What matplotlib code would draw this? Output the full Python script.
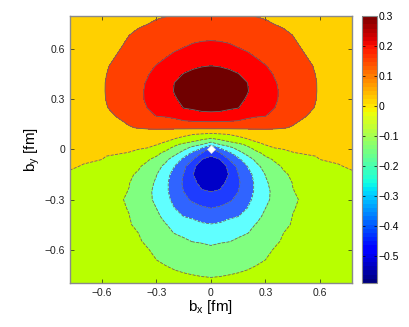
import numpy as np
import matplotlib
matplotlib.use('Agg')
import matplotlib.pyplot as plt
from matplotlib.colors import Normalize
import matplotlib.cm as cm

plt.rcParams['font.family'] = ['Liberation Sans', 'DejaVu Sans']

# grid (right half, bx >= 0; the map is mirror symmetric)
bx_half = [0.0, 0.05, 0.1, 0.15, 0.2, 0.25, 0.3, 0.35, 0.4, 0.45, 0.5, 0.6, 0.7, 0.8]
by_rows = [0.8, 0.75, 0.7, 0.6, 0.5, 0.45, 0.4, 0.35, 0.3, 0.25, 0.2, 0.16, 0.13, 0.11,
           0.09, 0.07, 0.05, 0.03, 0.01, -0.02, -0.04, -0.06, -0.1, -0.15, -0.2,
           -0.25, -0.3, -0.35, -0.4, -0.45, -0.5, -0.55, -0.6, -0.7, -0.8]

field_half = [
    [0.083, 0.081, 0.076, 0.067, 0.054, 0.048, 0.044, 0.040, 0.035, 0.031, 0.026, 0.018, 0.009, 0.000],
    [0.104, 0.102, 0.097, 0.089, 0.077, 0.067, 0.058, 0.050, 0.045, 0.039, 0.034, 0.023, 0.011, 0.000],
    [0.125, 0.123, 0.118, 0.110, 0.099, 0.086, 0.075, 0.064, 0.055, 0.047, 0.041, 0.027, 0.014, 0.000],
    [0.178, 0.175, 0.168, 0.155, 0.143, 0.130, 0.113, 0.096, 0.080, 0.065, 0.050, 0.033, 0.017, 0.000],
    [0.251, 0.247, 0.238, 0.222, 0.197, 0.169, 0.153, 0.133, 0.111, 0.089, 0.067, 0.039, 0.019, 0.000],
    [0.280, 0.277, 0.268, 0.254, 0.225, 0.201, 0.173, 0.145, 0.122, 0.099, 0.076, 0.041, 0.020, 0.000],
    [0.296, 0.293, 0.285, 0.271, 0.251, 0.220, 0.188, 0.156, 0.131, 0.106, 0.082, 0.043, 0.021, 0.000],
    [0.300, 0.297, 0.288, 0.274, 0.254, 0.224, 0.193, 0.161, 0.134, 0.109, 0.084, 0.043, 0.022, 0.000],
    [0.290, 0.287, 0.278, 0.264, 0.244, 0.216, 0.188, 0.160, 0.133, 0.107, 0.081, 0.042, 0.021, 0.000],
    [0.267, 0.264, 0.255, 0.252, 0.218, 0.200, 0.175, 0.151, 0.124, 0.099, 0.073, 0.039, 0.020, 0.000],
    [0.232, 0.232, 0.232, 0.205, 0.170, 0.157, 0.151, 0.128, 0.104, 0.079, 0.055, 0.035, 0.017, 0.000],
    [0.133, 0.132, 0.128, 0.124, 0.115, 0.105, 0.095, 0.080, 0.070, 0.054, 0.045, 0.030, 0.014, -0.002],
    [0.071, 0.070, 0.070, 0.067, 0.064, 0.061, 0.059, 0.056, 0.052, 0.047, 0.040, 0.025, 0.010, -0.005],
    [0.005, 0.006, 0.007, 0.018, 0.025, 0.033, 0.038, 0.039, 0.037, 0.029, 0.025, 0.017, 0.004, -0.008],
    [-0.075, -0.062, -0.049, -0.026, -0.007, 0.008, 0.017, 0.022, 0.022, 0.017, 0.014, 0.009, -0.001, -0.012],
    [-0.138, -0.114, -0.090, -0.067, -0.040, -0.018, -0.003, 0.004, 0.007, 0.004, 0.004, 0.001, -0.006, -0.015],
    [-0.217, -0.178, -0.140, -0.107, -0.073, -0.043, -0.024, -0.013, -0.007, -0.008, -0.007, -0.007, -0.012, -0.019],
    [-0.325, -0.248, -0.211, -0.174, -0.133, -0.084, -0.045, -0.031, -0.022, -0.020, -0.018, -0.015, -0.017, -0.022],
    [-0.454, -0.343, -0.277, -0.219, -0.167, -0.124, -0.085, -0.049, -0.037, -0.032, -0.029, -0.023, -0.022, -0.026],
    [-0.514, -0.450, -0.367, -0.284, -0.219, -0.166, -0.132, -0.105, -0.079, -0.053, -0.045, -0.034, -0.030, -0.031],
    [-0.551, -0.489, -0.412, -0.335, -0.258, -0.201, -0.149, -0.127, -0.106, -0.085, -0.063, -0.046, -0.040, -0.032],
    [-0.565, -0.553, -0.450, -0.373, -0.296, -0.229, -0.176, -0.141, -0.123, -0.105, -0.086, -0.050, -0.042, -0.035],
    [-0.583, -0.572, -0.540, -0.421, -0.350, -0.273, -0.217, -0.169, -0.141, -0.127, -0.112, -0.083, -0.054, -0.038],
    [-0.590, -0.579, -0.548, -0.453, -0.386, -0.317, -0.247, -0.203, -0.159, -0.141, -0.129, -0.106, -0.075, -0.055],
    [-0.579, -0.568, -0.535, -0.463, -0.397, -0.330, -0.263, -0.219, -0.181, -0.148, -0.138, -0.117, -0.096, -0.075],
    [-0.552, -0.545, -0.505, -0.452, -0.392, -0.332, -0.274, -0.227, -0.189, -0.152, -0.141, -0.122, -0.104, -0.085],
    [-0.501, -0.490, -0.470, -0.421, -0.374, -0.323, -0.269, -0.228, -0.194, -0.160, -0.144, -0.126, -0.108, -0.090],
    [-0.452, -0.440, -0.412, -0.378, -0.351, -0.300, -0.251, -0.218, -0.186, -0.153, -0.143, -0.127, -0.111, -0.095],
    [-0.397, -0.382, -0.367, -0.352, -0.313, -0.271, -0.235, -0.205, -0.174, -0.149, -0.142, -0.128, -0.114, -0.100],
    [-0.346, -0.340, -0.318, -0.292, -0.268, -0.247, -0.219, -0.190, -0.161, -0.146, -0.140, -0.126, -0.113, -0.100],
    [-0.306, -0.293, -0.279, -0.266, -0.253, -0.229, -0.203, -0.176, -0.150, -0.144, -0.138, -0.125, -0.113, -0.100],
    [-0.266, -0.259, -0.253, -0.238, -0.217, -0.197, -0.177, -0.156, -0.146, -0.140, -0.135, -0.123, -0.112, -0.100],
    [-0.234, -0.221, -0.209, -0.196, -0.183, -0.170, -0.158, -0.148, -0.143, -0.137, -0.132, -0.121, -0.111, -0.100],
    [-0.180, -0.174, -0.167, -0.161, -0.155, -0.149, -0.145, -0.141, -0.137, -0.133, -0.129, -0.121, -0.113, -0.105],
    [-0.135, -0.135, -0.134, -0.133, -0.132, -0.131, -0.130, -0.129, -0.127, -0.126, -0.124, -0.121, -0.116, -0.110],
]

levels = [-0.7, -0.55, -0.45, -0.35, -0.25, -0.15, -0.05, 0.05, 0.15, 0.25, 0.4]
fill_colors = ['#0000c8', '#1e3cff', '#3064ff', '#60ffff', '#80ff80',
               '#b8ff00', '#ffd000', '#ff4000', '#ff0000', '#700000']
cbar_ticks = [-0.5, -0.4, -0.3, -0.2, -0.1, 0, 0.1, 0.2, 0.3]
axis_ticks = [-0.6, -0.3, 0, 0.3, 0.6]

# mirror the right half onto the left
bx_half = np.array(bx_half)
half = np.array(field_half)
bx = np.concatenate([-bx_half[:0:-1], bx_half])
by = np.array(by_rows)[::-1]
z = np.hstack([half[:, :0:-1], half])[::-1]
BX, BY = np.meshgrid(bx, by)

fig = plt.figure(figsize=(4.09, 3.27), dpi=100)
ax = fig.add_axes([0.171, 0.1346, 0.6895, 0.8165])
ax.contourf(BX, BY, z, levels=levels, colors=fill_colors)
ax.contour(BX, BY, z, levels=levels[1:-1], colors='#6a6a6a', linewidths=0.6)
ax.plot(0, 0, 'D', color='white', ms=4.5, mec='#e0e0e0', mew=0.5)

ax.set_xlim(-0.776, 0.776)
ax.set_ylim(-0.8, 0.8)
ax.set_xticks(axis_ticks)
ax.set_yticks(axis_ticks)
fmt = lambda v: '0' if v == 0 else ('%g' % v).replace('-', '\u2212')
ax.set_xticklabels([fmt(v) for v in axis_ticks])
ax.set_yticklabels([fmt(v) for v in axis_ticks])
ax.tick_params(direction='in', top=True, right=True, length=3, width=0.5,
               labelsize=7.5, colors='#222222')
for s in ax.spines.values():
    s.set_color('#8a8a8a')
    s.set_linewidth(1.0)
ax.set_xlabel(r'$\mathregular{b_x}$ [fm]', fontsize=11, labelpad=0)
ax.set_ylabel(r'$\mathregular{b_y}$ [fm]', fontsize=11, labelpad=2)

cax = fig.add_axes([0.885, 0.1346, 0.0367, 0.8165])
sm = cm.ScalarMappable(norm=Normalize(-0.59, 0.3), cmap=plt.get_cmap('jet', 64))
cb = fig.colorbar(sm, cax=cax, ticks=cbar_ticks)
cb.ax.set_yticklabels([fmt(v) for v in cbar_ticks])
cb.ax.tick_params(direction='in', left=True, right=True, length=2, width=0.5,
                  labelsize=7.5, pad=1)
cb.outline.set_edgecolor('#8a8a8a')

fig.savefig('out.png', dpi=100)
